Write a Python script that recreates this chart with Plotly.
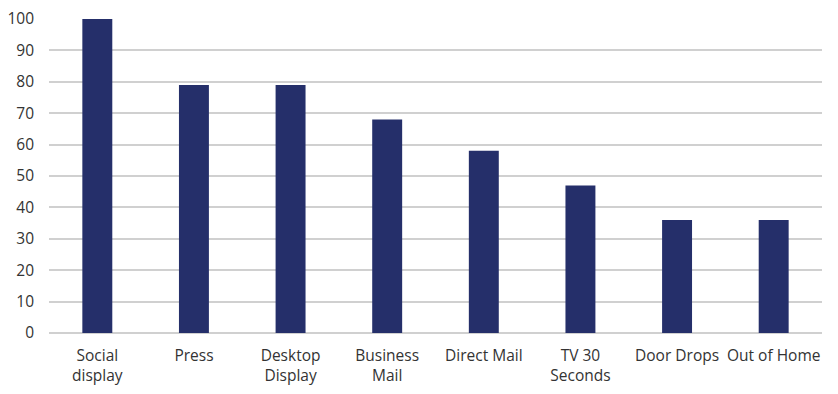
import plotly.graph_objects as go

categories = ["Social display", "Press", "Desktop Display", "Business Mail",
              "Direct Mail", "TV 30 Seconds", "Door Drops", "Out of Home"]
tick_labels = ["Social<br>display", "Press", "Desktop<br>Display", "Business<br>Mail",
               "Direct Mail", "TV 30<br>Seconds", "Door Drops", "Out of Home"]
values = [100, 79, 79, 68, 58, 47, 36, 36]
y_ticks = list(range(0, 101, 10))

fig = go.Figure(go.Bar(x=categories, y=values, marker_color="#252F6A",
                       marker_line_width=0))
fig.update_layout(
    width=838, height=394,
    margin=dict(l=49, r=16, t=18, b=61),
    paper_bgcolor="white", plot_bgcolor="white",
    bargap=0.69,
    showlegend=False,
    font=dict(family="Open Sans, Liberation Sans, sans-serif", size=15.5, color="#333333"),
)
fig.update_xaxes(tickmode="array", tickvals=categories, ticktext=tick_labels,
                 showgrid=False, showline=False, ticks="", automargin=False,
                 ticklabelstandoff=11)
fig.update_yaxes(range=[0, 100.3], tickvals=y_ticks, showgrid=True, gridcolor="#D0D0D0",
                 gridwidth=1.5, zeroline=True, zerolinecolor="#D0D0D0", zerolinewidth=1.5,
                 ticks="", ticklabelstandoff=14, automargin=False)
fig.write_html("out.html", config={"displayModeBar": False},
               post_script="document.body.style.margin='0';")
